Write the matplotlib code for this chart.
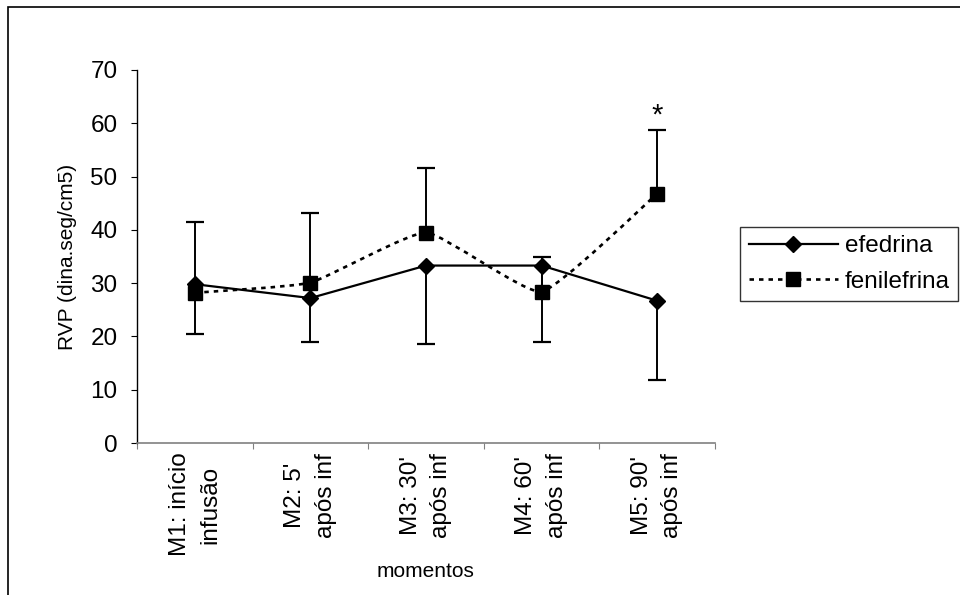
import numpy as np
import matplotlib.pyplot as plt
from matplotlib.path import Path
from matplotlib.patches import PathPatch, Rectangle
from matplotlib.lines import Line2D

plt.rcParams['font.family'] = ['Liberation Sans', 'DejaVu Sans']
plt.rcParams['font.size'] = 15

momentos = ["M1: início\ninfusão", "M2: 5'\napós inf", "M3: 30'\napós inf",
            "M4: 60'\napós inf", "M5: 90'\napós inf"]
efedrina = [29.8, 27.2, 33.3, 33.3, 26.7]
efedrina_err = [9.3, 8.3, 14.8, 14.4, 14.8]        # so para baixo
fenilefrina = [28.2, 30.1, 39.5, 28.4, 46.8]
fenilefrina_err = [13.3, 13.0, 12.2, 6.5, 11.9]    # so para cima
signif = ['', '', '', '', '*']

x = np.arange(1, len(momentos) + 1)
ef = np.array(efedrina)
fe = np.array(fenilefrina)

fig = plt.figure(figsize=(9.6, 5.95), dpi=100)
ax = fig.add_axes([137/960, 1 - 443/595, 578/960, 373/595])

# moldura externa
fig.patches.append(Rectangle((8/960, -0.1), 1.2, 1.1 - 7/595, transform=fig.transFigure,
                             fill=False, edgecolor='black', linewidth=1.2))

# efedrina: linha reta
ax.plot(x, ef, color='black', lw=1.6, marker='D', ms=7.8, zorder=3)

# fenilefrina: linha levemente suavizada (estilo excel)
pts = np.column_stack([x, fe])
ext = np.vstack([pts[0], pts, pts[-1]])
verts = [tuple(pts[0])]
codes = [Path.MOVETO]
k = 1 / 14
for i in range(len(pts) - 1):
    p0, p1, p2, p3 = ext[i], ext[i + 1], ext[i + 2], ext[i + 3]
    c1 = p1 + (p2 - p0) * k
    c2 = p2 - (p3 - p1) * k
    verts += [tuple(c1), tuple(c2), tuple(p2)]
    codes += [Path.CURVE4] * 3
ax.add_patch(PathPatch(Path(verts, codes), fill=False, edgecolor='black', lw=1.9,
                       linestyle=(0, (1.7, 1.9)), zorder=2))
ax.plot(x, fe, linestyle='none', marker='s', ms=10.5, color='black', zorder=3)

# barras de erro
eb1 = ax.errorbar(x, ef, yerr=[efedrina_err, np.zeros(5)], fmt='none', ecolor='black',
                  elinewidth=1.4, capsize=6.5, capthick=1.6, zorder=4)
eb1[1][1].set_visible(False)
eb2 = ax.errorbar(x, fe, yerr=[np.zeros(5), fenilefrina_err], fmt='none', ecolor='black',
                  elinewidth=1.4, capsize=6.5, capthick=1.6, zorder=4)
eb2[1][0].set_visible(False)

for xi, yi, e, s in zip(x, fe, fenilefrina_err, signif):
    if s:
        ax.text(xi, yi + e + 0.2, s, ha='center', va='bottom', fontsize=21)

ax.set_xlim(0.5, 5.5)
ax.set_ylim(0, 70)
ax.set_yticks(range(0, 71, 10))
ax.set_xticks(np.arange(0.5, 5.6, 1))
ax.set_xticklabels([])
ax.set_xticks(x, minor=True)
ax.set_xticklabels(momentos, minor=True, rotation=90, ha='center', va='top',
                   multialignment='center', linespacing=1.5, fontsize=17.5)
ax.tick_params(axis='x', which='minor', length=0, pad=7)
ax.tick_params(axis='x', which='major', length=4, direction='out', color='#808080')
ax.tick_params(axis='y', length=4, direction='out', pad=10, labelsize=17.5)

for s in ['top', 'right']:
    ax.spines[s].set_visible(False)
ax.spines['left'].set_color('black')
ax.spines['bottom'].set_color('#808080')
ax.spines['left'].set_linewidth(1.0)
ax.spines['bottom'].set_linewidth(1.2)

ax.set_ylabel('RVP (dina.seg/cm5)', labelpad=10)
ax.set_xlabel('momentos', labelpad=4)

handles = [Line2D([], [], color='black', lw=1.6, marker='D', ms=7.8),
           Line2D([], [], color='black', lw=1.9, linestyle=(0, (1.7, 1.9)), marker='s', ms=10.5)]
leg = fig.legend(handles, ['efedrina', 'fenilefrina'], loc='center left',
                 bbox_to_anchor=(740/960, 1 - 264/595), frameon=True, fancybox=False,
                 edgecolor='black', handlelength=3.7, handletextpad=0.25,
                 borderpad=0.35, labelspacing=0.55, borderaxespad=0, fontsize=17.5)
leg.get_frame().set_linewidth(1.0)

fig.savefig('out.png', dpi=100)
